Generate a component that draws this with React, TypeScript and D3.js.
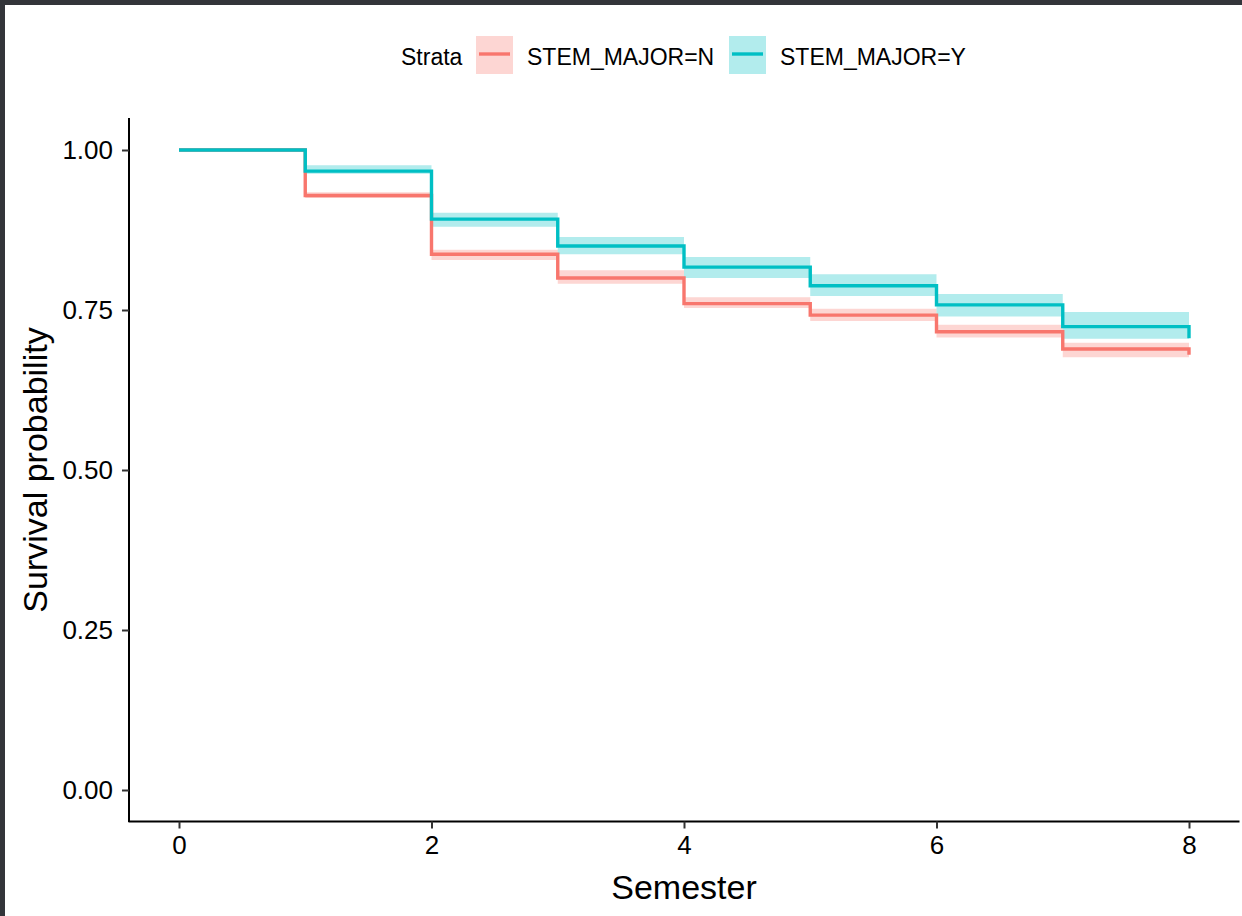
import React, { useRef, useEffect } from 'react';
import * as d3 from 'd3';

// Kaplan-Meier estimates
const semesters = [0, 1, 2, 3, 4, 5, 6, 7, 8];

const survN = [1.0, 0.929, 0.837, 0.8, 0.76, 0.742, 0.716, 0.689, 0.68];
const upperN = [1.0, 0.934, 0.844, 0.812, 0.77, 0.752, 0.727, 0.699, 0.69];
const lowerN = [1.0, 0.925, 0.828, 0.791, 0.753, 0.733, 0.707, 0.676, 0.668];

const survY = [1.0, 0.967, 0.892, 0.85, 0.817, 0.788, 0.758, 0.724, 0.706];
const upperY = [1.0, 0.976, 0.902, 0.864, 0.833, 0.806, 0.775, 0.747, 0.73];
const lowerY = [1.0, 0.963, 0.88, 0.837, 0.8, 0.772, 0.74, 0.705, 0.685];

const strata = ['STEM_MAJOR=N', 'STEM_MAJOR=Y'];
const strataColors = ['#F8766D', '#00BFC4'];

const xTicks = [0, 2, 4, 6, 8];
const yTicks = [0, 0.25, 0.5, 0.75, 1];

const FONT = 'Arial, "Liberation Sans", sans-serif';

const App = () => {
    const svgRef = useRef(null);

    useEffect(() => {
        const svg = d3.select(svgRef.current);
        svg.selectAll('*').remove();

        const W = 1242;
        const H = 916;

        svg.append('rect').attr('width', W).attr('height', H).attr('fill', 'white');
        // dark screenshot frame at top and left
        svg.append('rect').attr('x', 0).attr('y', 0).attr('width', W).attr('height', 5).attr('fill', '#33353a');
        svg.append('rect').attr('x', 0).attr('y', 0).attr('width', 5).attr('height', H).attr('fill', '#33353a');

        const x = d3.scaleLinear().domain([-0.4, 8.4]).range([128.5, 1239.5]);
        const y = d3.scaleLinear().domain([-0.05, 1.05]).range([822, 118]);

        const series = [
            { surv: survN, upper: upperN, lower: lowerN },
            { surv: survY, upper: upperY, lower: lowerY },
        ];

        const idx = semesters.map((_, i) => i);

        // confidence bands
        series.forEach((s, k) => {
            const band = d3.area<number>()
                .x(i => x(semesters[i]))
                .y0(i => y(s.lower[i]))
                .y1(i => y(s.upper[i]))
                .curve(d3.curveStepAfter);
            svg.append('path')
                .attr('d', band(idx))
                .attr('fill', strataColors[k])
                .attr('fill-opacity', 0.3);
        });

        // survival curves
        series.forEach((s, k) => {
            const line = d3.line<number>()
                .x(i => x(semesters[i]))
                .y(i => y(s.surv[i]))
                .curve(d3.curveStepAfter);
            svg.append('path')
                .attr('d', line(idx))
                .attr('fill', 'none')
                .attr('stroke', strataColors[k])
                .attr('stroke-width', 3.4);
        });

        // axes
        const xAxis = svg.append('g')
            .attr('transform', `translate(0, 821.5)`)
            .call(d3.axisBottom(x).tickValues(xTicks).tickSize(7).tickPadding(7).tickFormat(d3.format('d')));
        const yAxis = svg.append('g')
            .attr('transform', `translate(129, 0)`)
            .call(d3.axisLeft(y).tickValues(yTicks).tickSize(7).tickPadding(9).tickFormat(d3.format('.2f')));

        [xAxis, yAxis].forEach(g => {
            g.select('.domain').attr('stroke', '#000').attr('stroke-width', 2);
            g.selectAll('.tick line').attr('stroke', '#333').attr('stroke-width', 2);
            g.selectAll('.tick text')
                .attr('fill', '#000')
                .style('font-family', FONT)
                .style('font-size', '26px');
        });
        xAxis.select('.domain').attr('d', `M128.5,0H1239.5`);
        yAxis.select('.domain').attr('d', `M0,118V822`);
        xAxis.selectAll('.tick text').attr('dy', '0.71em');

        // axis titles
        svg.append('text')
            .attr('x', 684)
            .attr('y', 899)
            .attr('text-anchor', 'middle')
            .style('font-family', FONT)
            .style('font-size', '34px')
            .attr('fill', '#000')
            .text('Semester');

        svg.append('text')
            .attr('transform', `translate(47, 470) rotate(-90)`)
            .attr('text-anchor', 'middle')
            .style('font-family', FONT)
            .style('font-size', '34px')
            .attr('fill', '#000')
            .text('Survival probability');

        // legend
        const legend = svg.append('g').attr('transform', 'translate(401, 0)');
        legend.append('text')
            .attr('x', 0)
            .attr('y', 65)
            .style('font-family', FONT)
            .style('font-size', '23px')
            .attr('fill', '#000')
            .text('Strata');

        const keyX = [75, 328];
        strata.forEach((name, k) => {
            const g = legend.append('g').attr('transform', `translate(${keyX[k]}, 36)`);
            g.append('rect')
                .attr('width', 37)
                .attr('height', 38)
                .attr('fill', strataColors[k])
                .attr('fill-opacity', 0.3);
            g.append('line')
                .attr('x1', 3).attr('x2', 34)
                .attr('y1', 18).attr('y2', 18)
                .attr('stroke', strataColors[k])
                .attr('stroke-width', 3.4);
            g.append('text')
                .attr('x', 51)
                .attr('y', 29)
                .style('font-family', FONT)
                .style('font-size', '23px')
                .attr('fill', '#000')
                .text(name);
        });
    }, []);

    return (
        <svg ref={svgRef} width="1242" height="916"
            style={{ position: 'absolute', left: 0, top: 0, display: 'block' }} />
    );
};

export default App;
